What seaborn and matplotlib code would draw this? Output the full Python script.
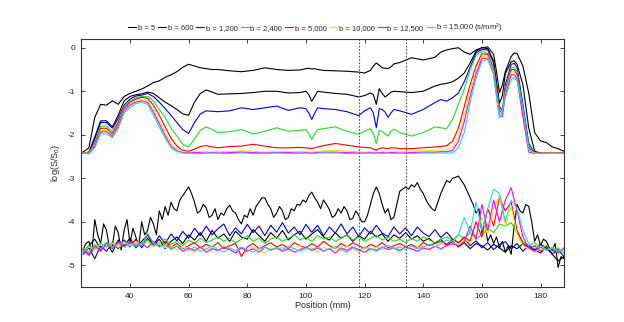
import matplotlib
matplotlib.use("Agg")
import matplotlib.pyplot as plt
import seaborn as sns

b_labels = ["b = 5", "b = 600", "b = 1,200", "b = 2,400", "b = 5,000",
            "b = 10,000", "b = 12,500", "b = 15,000 (s/mm$^2$)"]
colors = ["#000000", "#000000", "#0000ee", "#22dd22", "#ff0000",
          "#f2e600", "#ff00ff", "#22d4f4"]

pos_upper = [23.5, 26, 28, 30, 32, 34, 36, 38, 40, 42,
             44, 46, 48, 50, 52, 54, 56, 58, 60, 62,
             64, 66, 68, 70, 74, 78, 82, 86, 90, 94,
             98, 100, 101, 102, 103, 104, 106, 110, 114, 118,
             120, 122, 123, 124, 125, 126, 127, 128, 129, 130,
             132, 136, 140, 144, 146, 148, 150, 152, 154, 156,
             158, 160, 162, 164, 165, 166, 167, 168, 170, 171,
             172, 174, 176, 178, 180, 182, 184, 186, 188]

up_b5 = [-2.42, -2.30, -1.60, -1.30, -1.32, -1.22, -1.30, -1.12, -1.05, -1.00,
         -0.95, -0.88, -0.80, -0.76, -0.68, -0.62, -0.55, -0.45, -0.38, -0.42,
         -0.46, -0.48, -0.50, -0.50, -0.53, -0.55, -0.52, -0.46, -0.50, -0.52,
         -0.51, -0.48, -0.47, -0.49, -0.48, -0.50, -0.52, -0.53, -0.54, -0.56,
         -0.58, -0.52, -0.42, -0.35, -0.40, -0.46, -0.47, -0.48, -0.44, -0.37,
         -0.34, -0.23, -0.28, -0.22, -0.10, -0.05, -0.02, 0.00, -0.10, -0.15,
         -0.05, 0.00, 0.02, -0.15, -0.55, -1.03, -0.85, -0.55, -0.20, -0.12,
         -0.13, -0.42, -1.05, -1.95, -2.14, -2.18, -2.28, -2.32, -2.38]
up_b600 = [-2.42, -2.40, -2.05, -1.68, -1.68, -1.82, -1.55, -1.22, -1.12, -1.08,
           -1.06, -1.02, -1.05, -1.15, -1.25, -1.33, -1.42, -1.52, -1.55, -1.25,
           -1.05, -0.97, -1.02, -1.07, -1.06, -1.05, -1.03, -1.00, -1.00, -1.04,
           -1.03, -1.00, -1.08, -1.23, -1.12, -1.00, -1.02, -1.05, -1.07, -1.13,
           -1.10, -1.04, -1.08, -1.30, -0.94, -1.05, -1.13, -1.08, -1.02, -1.00,
           -1.01, -1.03, -1.00, -0.88, -0.84, -0.82, -0.78, -0.70, -0.58, -0.35,
           -0.08, 0.00, -0.02, -0.30, -0.80, -1.28, -1.10, -0.60, -0.32, -0.30,
           -0.38, -0.85, -1.85, -2.38, -2.42, -2.43, -2.42, -2.43, -2.42]
up_b1200 = [-2.42, -2.42, -2.10, -1.72, -1.72, -1.85, -1.62, -1.32, -1.18, -1.11,
            -1.09, -1.05, -1.12, -1.25, -1.40, -1.55, -1.72, -1.88, -1.97, -1.72,
            -1.52, -1.45, -1.46, -1.47, -1.45, -1.38, -1.42, -1.38, -1.34, -1.44,
            -1.38, -1.40, -1.50, -1.65, -1.50, -1.38, -1.40, -1.42, -1.47, -1.56,
            -1.45, -1.38, -1.50, -1.84, -1.40, -1.42, -1.48, -1.60, -1.50, -1.42,
            -1.45, -1.53, -1.42, -1.26, -1.19, -1.23, -1.15, -1.04, -0.78, -0.45,
            -0.12, -0.04, -0.05, -0.35, -0.85, -1.35, -1.45, -0.85, -0.38, -0.36,
            -0.45, -1.30, -2.20, -2.42, -2.43, -2.43, -2.42, -2.43, -2.43]
up_b2400 = [-2.42, -2.42, -2.18, -1.80, -1.80, -1.93, -1.68, -1.36, -1.22, -1.15,
            -1.12, -1.12, -1.22, -1.42, -1.60, -1.85, -2.03, -2.22, -2.28, -2.10,
            -1.90, -1.82, -1.88, -1.95, -1.93, -1.88, -1.98, -1.92, -1.84, -1.92,
            -1.90, -1.88, -1.98, -2.11, -1.98, -1.88, -1.86, -1.82, -1.92, -1.99,
            -1.92, -1.86, -1.98, -2.20, -1.90, -1.92, -1.98, -2.03, -1.92, -1.87,
            -1.95, -2.03, -1.95, -1.82, -1.84, -1.86, -1.65, -1.30, -0.95, -0.50,
            -0.18, -0.08, -0.13, -0.45, -0.95, -1.40, -1.45, -0.95, -0.46, -0.45,
            -0.55, -1.40, -2.25, -2.42, -2.43, -2.42, -2.43, -2.42, -2.43]
up_b5000 = [-2.42, -2.42, -2.22, -1.85, -1.85, -1.98, -1.72, -1.40, -1.25, -1.18,
            -1.14, -1.16, -1.32, -1.55, -1.82, -2.08, -2.26, -2.36, -2.38, -2.33,
            -2.27, -2.25, -2.28, -2.30, -2.27, -2.26, -2.22, -2.26, -2.30, -2.30,
            -2.29, -2.30, -2.31, -2.32, -2.30, -2.28, -2.25, -2.20, -2.24, -2.28,
            -2.29, -2.30, -2.33, -2.36, -2.32, -2.30, -2.31, -2.32, -2.30, -2.30,
            -2.32, -2.32, -2.30, -2.28, -2.27, -2.25, -2.15, -1.85, -1.35, -0.85,
            -0.42, -0.14, -0.15, -0.50, -1.00, -1.45, -1.50, -1.00, -0.50, -0.50,
            -0.62, -1.50, -2.30, -2.42, -2.43, -2.42, -2.43, -2.42, -2.43]
up_b10000 = [-2.42, -2.42, -2.25, -1.90, -1.90, -2.02, -1.78, -1.44, -1.30, -1.22,
             -1.18, -1.22, -1.42, -1.68, -1.95, -2.20, -2.34, -2.40, -2.41, -2.39,
             -2.38, -2.39, -2.40, -2.38, -2.39, -2.37, -2.38, -2.40, -2.38, -2.39,
             -2.38, -2.39, -2.40, -2.40, -2.39, -2.38, -2.37, -2.36, -2.38, -2.39,
             -2.40, -2.39, -2.40, -2.41, -2.40, -2.39, -2.39, -2.40, -2.39, -2.38,
             -2.39, -2.38, -2.37, -2.36, -2.35, -2.34, -2.30, -2.05, -1.55, -1.00,
             -0.55, -0.20, -0.20, -0.55, -1.05, -1.52, -1.55, -1.05, -0.56, -0.55,
             -0.68, -1.55, -2.35, -2.42, -2.43, -2.43, -2.42, -2.43, -2.43]
up_b12500 = [-2.42, -2.43, -2.27, -1.93, -1.93, -2.04, -1.80, -1.46, -1.32, -1.25,
             -1.22, -1.26, -1.48, -1.75, -2.02, -2.26, -2.37, -2.41, -2.42, -2.41,
             -2.41, -2.42, -2.41, -2.42, -2.41, -2.40, -2.41, -2.42, -2.41, -2.41,
             -2.42, -2.41, -2.42, -2.42, -2.41, -2.41, -2.40, -2.40, -2.41, -2.42,
             -2.42, -2.41, -2.42, -2.42, -2.41, -2.41, -2.42, -2.41, -2.41, -2.41,
             -2.42, -2.41, -2.40, -2.40, -2.39, -2.39, -2.36, -2.15, -1.70, -1.12,
             -0.62, -0.25, -0.24, -0.60, -1.10, -1.58, -1.58, -1.10, -0.62, -0.62,
             -0.72, -1.60, -2.40, -2.43, -2.43, -2.43, -2.43, -2.43, -2.43]
up_b15000 = [-2.42, -2.44, -2.30, -1.98, -1.98, -2.07, -1.85, -1.50, -1.38, -1.28,
             -1.26, -1.30, -1.55, -1.82, -2.08, -2.30, -2.38, -2.42, -2.43, -2.43,
             -2.43, -2.43, -2.42, -2.43, -2.43, -2.42, -2.43, -2.43, -2.42, -2.43,
             -2.43, -2.42, -2.43, -2.43, -2.43, -2.42, -2.42, -2.42, -2.43, -2.43,
             -2.43, -2.42, -2.43, -2.43, -2.42, -2.43, -2.43, -2.42, -2.43, -2.43,
             -2.43, -2.43, -2.42, -2.42, -2.42, -2.42, -2.42, -2.30, -1.95, -1.25,
             -0.70, -0.32, -0.26, -0.62, -1.15, -1.62, -1.45, -1.15, -0.72, -0.70,
             -0.76, -1.40, -2.35, -2.43, -2.43, -2.43, -2.43, -2.43, -2.43]

pos_lower_b5 = list(range(24, 189, 1))
pos_lower = list(range(24, 189, 2))

low_b5 = [-4.64, -4.50, -4.45, -4.70, -3.95, -4.30, -4.50, -4.05, -4.20, -4.60,
          -4.55, -4.10, -4.25, -4.65, -4.20, -3.95, -4.50, -4.15, -4.35, -4.55,
          -4.00, -4.30, -4.20, -3.90, -4.05, -4.30, -3.75, -3.95, -3.65, -3.85,
          -3.55, -3.70, -3.75, -3.50, -3.40, -3.30, -3.20, -3.35, -3.55, -3.80,
          -3.75, -3.60, -3.68, -3.90, -3.85, -3.70, -3.95, -3.80, -3.85, -3.70,
          -3.62, -3.75, -3.80, -3.95, -4.05, -3.85, -3.90, -3.70, -3.85, -3.65,
          -3.55, -3.45, -3.45, -3.60, -3.70, -3.90, -3.80, -3.65, -3.75, -3.95,
          -3.90, -3.70, -3.75, -3.60, -3.62, -3.50, -3.55, -3.40, -3.32, -3.45,
          -3.55, -3.70, -3.50, -3.60, -3.72, -3.90, -3.85, -3.70, -3.80, -3.65,
          -3.75, -3.95, -3.92, -3.75, -3.85, -4.00, -4.00, -3.85, -3.60, -3.35,
          -3.20, -3.35, -3.60, -3.80, -3.70, -3.95, -3.90, -3.60, -3.30, -3.25,
          -3.20, -3.25, -3.15, -3.20, -3.10, -3.25, -3.35, -3.50, -3.62, -3.70,
          -3.75, -3.55, -3.35, -3.20, -3.05, -3.10, -3.00, -2.98, -2.95, -3.05,
          -3.15, -3.30, -3.45, -3.60, -3.80, -3.70, -4.25, -4.05, -4.45, -4.30,
          -4.50, -4.35, -4.60, -4.45, -4.70, -4.55, -4.75, -4.10, -3.60, -3.75,
          -3.80, -3.60, -3.65, -4.00, -4.45, -4.30, -4.55, -4.40, -4.45, -4.60,
          -4.65, -4.50, -5.05, -4.80, -4.85]
low_b600 = [-4.70, -4.55, -4.40, -4.62, -4.48, -4.70, -4.42, -4.55, -4.38, -4.60,
            -4.45, -4.30, -4.55, -4.40, -4.62, -4.45, -4.35, -4.50, -4.30, -4.42,
            -4.25, -4.45, -4.20, -4.38, -4.28, -4.45, -4.22, -4.35, -4.40, -4.18,
            -4.32, -4.45, -4.25, -4.38, -4.20, -4.42, -4.30, -4.22, -4.40, -4.28,
            -4.18, -4.35, -4.42, -4.25, -4.38, -4.30, -4.45, -4.32, -4.40, -4.22,
            -4.35, -4.28, -4.45, -4.30, -4.38, -4.25, -4.40, -4.32, -4.45, -4.38,
            -4.50, -4.40, -4.55, -4.45, -4.58, -4.48, -4.62, -4.50, -4.55, -4.65,
            -4.52, -4.60, -4.70, -4.55, -4.62, -4.50, -4.58, -4.65, -4.52, -4.60,
            -4.75, -4.90, -4.80]
low_b1200 = [-4.75, -4.60, -4.85, -4.55, -4.68, -4.48, -4.62, -4.42, -4.58, -4.40,
             -4.60, -4.38, -4.54, -4.32, -4.50, -4.28, -4.44, -4.22, -4.38, -4.15,
             -4.32, -4.10, -4.30, -4.16, -4.05, -4.32, -4.14, -4.28, -4.06, -4.25,
             -4.10, -4.32, -4.08, -4.24, -4.02, -4.26, -4.12, -4.30, -4.06, -4.24,
             -4.08, -4.32, -4.12, -4.26, -4.05, -4.28, -4.12, -4.34, -4.14, -4.28,
             -4.08, -4.26, -4.34, -4.12, -4.28, -4.14, -4.32, -4.12, -4.26, -4.34,
             -4.18, -4.36, -4.24, -4.40, -4.48, -4.38, -4.55, -4.44, -4.60, -4.48,
             -4.64, -4.52, -4.46, -4.62, -4.50, -4.68, -4.54, -4.64, -4.72, -4.56,
             -4.74, -4.64, -4.80]
low_b2400 = [-4.68, -4.55, -4.62, -4.50, -4.58, -4.48, -4.60, -4.52, -4.45, -4.58,
             -4.50, -4.42, -4.55, -4.48, -4.40, -4.52, -4.45, -4.55, -4.42, -4.50,
             -4.38, -4.48, -4.42, -4.35, -4.45, -4.38, -4.48, -4.40, -4.32, -4.45,
             -4.38, -4.50, -4.40, -4.35, -4.45, -4.38, -4.30, -4.42, -4.36, -4.45,
             -4.32, -4.40, -4.35, -4.45, -4.38, -4.30, -4.42, -4.35, -4.45, -4.38,
             -4.32, -4.42, -4.36, -4.45, -4.40, -4.48, -4.38, -4.45, -4.35, -4.42,
             -4.48, -4.40, -4.35, -4.42, -4.30, -4.38, -4.25, -4.40, -4.30, -4.15,
             -4.25, -4.05, -4.10, -4.02, -4.25, -4.45, -4.55, -4.48, -4.60, -4.55,
             -4.68, -4.60, -4.72]
low_b5000 = [-4.62, -4.75, -4.55, -4.65, -4.48, -4.58, -4.45, -4.55, -4.50, -4.42,
             -4.55, -4.30, -4.48, -4.55, -4.45, -4.58, -4.50, -4.62, -4.55, -4.48,
             -4.60, -4.52, -4.58, -4.48, -4.62, -4.55, -4.50, -4.80, -4.58, -4.50,
             -4.62, -4.55, -4.48, -4.58, -4.52, -4.62, -4.48, -4.55, -4.60, -4.50,
             -4.58, -4.45, -4.55, -4.62, -4.50, -4.58, -4.48, -4.55, -4.62, -4.52,
             -4.58, -4.48, -4.60, -4.55, -4.50, -4.58, -4.52, -4.60, -4.48, -4.55,
             -4.50, -4.45, -4.52, -4.40, -4.48, -4.35, -4.45, -4.00, -4.35, -3.70,
             -4.10, -3.45, -3.75, -3.55, -4.20, -4.50, -4.62, -4.55, -4.68, -4.58,
             -4.65, -4.72, -4.60]
low_b10000 = [-4.70, -4.58, -4.65, -4.52, -4.62, -4.50, -4.58, -4.48, -4.55, -4.45,
              -4.52, -4.48, -4.58, -4.50, -4.60, -4.55, -4.65, -4.58, -4.62, -4.70,
              -4.58, -4.65, -4.60, -4.68, -4.55, -4.62, -4.70, -4.60, -4.66, -4.58,
              -4.64, -4.72, -4.60, -4.65, -4.58, -4.68, -4.62, -4.55, -4.65, -4.60,
              -4.70, -4.58, -4.64, -4.60, -4.68, -4.56, -4.62, -4.70, -4.60, -4.66,
              -4.58, -4.64, -4.55, -4.62, -4.68, -4.58, -4.65, -4.60, -4.55, -4.62,
              -4.58, -4.50, -4.56, -4.48, -4.52, -4.40, -4.48, -4.30, -3.90, -4.30,
              -3.70, -3.40, -4.10, -3.65, -4.30, -4.55, -4.62, -4.70, -4.60, -4.66,
              -4.58, -4.70, -4.65]
low_b12500 = [-4.65, -4.78, -4.55, -4.68, -4.50, -4.62, -4.48, -4.58, -4.45, -4.55,
              -4.50, -4.60, -4.45, -4.58, -4.52, -4.62, -4.56, -4.68, -4.60, -4.66,
              -4.58, -4.70, -4.62, -4.66, -4.58, -4.64, -4.72, -4.60, -4.68, -4.62,
              -4.70, -4.58, -4.65, -4.60, -4.68, -4.62, -4.70, -4.64, -4.58, -4.66,
              -4.60, -4.68, -4.62, -4.72, -4.60, -4.66, -4.58, -4.64, -4.70, -4.62,
              -4.66, -4.58, -4.64, -4.60, -4.66, -4.58, -4.62, -4.68, -4.60, -4.64,
              -4.56, -4.62, -4.55, -4.50, -4.56, -4.45, -4.10, -4.40, -3.60, -4.20,
              -3.50, -4.00, -3.50, -3.22, -3.75, -4.35, -4.60, -4.68, -4.58, -4.65,
              -4.60, -4.70, -4.62]
low_b15000 = [-4.60, -4.70, -4.52, -4.62, -4.48, -4.58, -4.52, -4.45, -4.56, -4.48,
              -4.55, -4.25, -4.50, -4.58, -4.52, -4.64, -4.56, -4.62, -4.66, -4.58,
              -4.68, -4.62, -4.56, -4.64, -4.70, -4.60, -4.66, -4.58, -4.64, -4.70,
              -4.62, -4.58, -4.66, -4.60, -4.64, -4.56, -4.62, -4.68, -4.60, -4.64,
              -4.58, -4.66, -4.62, -4.56, -4.64, -4.70, -4.60, -4.66, -4.58, -4.62,
              -4.68, -4.60, -4.55, -4.62, -4.58, -4.64, -4.56, -4.62, -4.58, -4.52,
              -4.58, -4.50, -4.42, -4.48, -4.30, -3.90, -4.25, -3.55, -4.20, -3.70,
              -3.25, -3.35, -4.00, -3.50, -3.70, -4.20, -4.50, -4.62, -4.55, -4.66,
              -4.60, -4.68, -4.62]

x_ticks = [40, 60, 80, 100, 120, 140, 160, 180]
y_ticks = [0, -1, -2, -3, -4, -5]
marker_positions = [118.2, 134.2]

sns.set_theme(style="white")
plt.rcParams["font.family"] = ["Liberation Sans", "DejaVu Sans"]
plt.rcParams["axes.unicode_minus"] = False
plt.rcParams["mathtext.default"] = "regular"

fig = plt.figure(figsize=(6.24, 3.22), dpi=100)
ax = fig.add_axes([0.1298, 0.1087, 0.7740, 0.7700])

uppers = [up_b5, up_b600, up_b1200, up_b2400, up_b5000, up_b10000, up_b12500, up_b15000]
lowers = [low_b5, low_b600, low_b1200, low_b2400, low_b5000, low_b10000, low_b12500, low_b15000]
lower_pos = [pos_lower_b5] + [pos_lower] * 7

handles = []
for lab, col, u in zip(b_labels, colors, uppers):
    sns.lineplot(x=pos_upper, y=u, color=col, linewidth=0.8, ax=ax,
                 sort=False, estimator=None)
    handles.append(ax.lines[-1])
for col, xp, l in zip(colors, lower_pos, lowers):
    sns.lineplot(x=xp, y=l, color=col, linewidth=0.8, ax=ax,
                 sort=False, estimator=None)

for xm in marker_positions:
    ax.axvline(xm, color="#555555", linestyle=(0, (1.5, 1.5)), linewidth=0.8)

ax.set_xlim(23.3, 188)
ax.set_ylim(-5.5, 0.2)
ax.set_xticks(x_ticks)
ax.set_yticks(y_ticks)
ax.set_xticklabels([str(v) for v in x_ticks])
ax.set_yticklabels([str(v) for v in y_ticks])
ax.tick_params(direction="in", top=True, right=True, bottom=True, left=True,
               length=3, width=0.6, labelsize=6, pad=4, colors="#222222")
for s in ax.spines.values():
    s.set_color("#333333")
    s.set_linewidth(0.8)
ax.set_xlabel("Position (mm)", fontsize=6.5, labelpad=1)
ax.set_ylabel("log(S/S$_0$)", fontsize=6.5, labelpad=4)

fig.legend(handles, b_labels, loc="center", bbox_to_anchor=(0.506, 0.913),
           ncol=8, frameon=False, fontsize=5.5, handlelength=1.0,
           handletextpad=0.2, columnspacing=0.45, borderaxespad=0)

fig.savefig("out.png", dpi=100, facecolor="white")
